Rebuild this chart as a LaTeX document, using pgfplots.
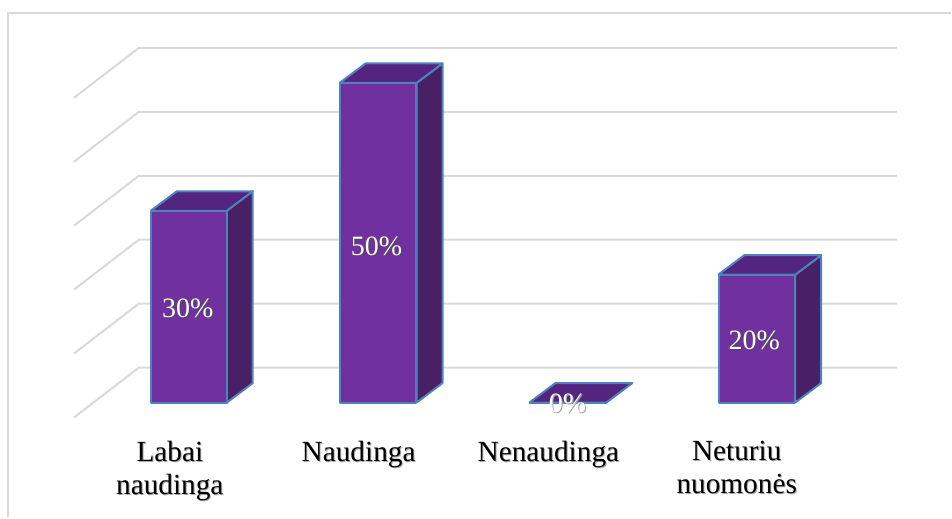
\documentclass[border=0pt]{standalone}
\usepackage{pgfplots}
\pgfplotsset{compat=1.18}
\usepackage{fontspec}
\setmainfont{Liberation Serif}

\definecolor{barfront}{HTML}{7030A0}
\definecolor{bartop}{HTML}{532480}
\definecolor{barside}{HTML}{472066}
\definecolor{baredge}{HTML}{4F81BD}
\definecolor{gridc}{HTML}{D9D9D9}

% text with the soft shadow of the original
\newcommand{\shc}[2]{\makebox[0pt][l]{\kern1pt\raisebox{-1pt}{\textcolor{#1}{#2}}}#2}
\newcommand{\sh}[1]{\shc{gray!70}{#1}}
\newcommand{\shd}[1]{\shc{black!70}{#1}}

\begin{document}
\begin{tikzpicture}[line join=round]
\begin{axis}[
  width=952pt, height=518pt, scale only axis,
  % x in picture pixels, y in percent with 6.4 px per percent
  xmin=0, xmax=952, ymin=-17.97, ymax=62.97,
  axis line style={draw=none},
  tick style={draw=none},
  clip=false,
  xtick pos=bottom,
  xtick={170,359,549,737.5},
  xticklabels={{\sh{Labai}\\\sh{naudinga}},{\sh{Naudinga}},{\sh{Nenaudinga}},{\sh{Neturiu}\\\sh{nuomonės}}},
  x tick label style={align=center, anchor=north, yshift=80pt, font=\fontsize{29.3}{33}\selectfont},
  ytick=\empty,
  major tick length=0pt,
]
% frame
\addplot[gridc, line width=2pt] coordinates {(8,-17.97) (8,60.9) (952,60.9)};
% back wall and side wall grid
\addplot[gridc, line width=2pt] coordinates {(74,-2.34) (139,5.47) (898,5.47)};
\addplot[gridc, line width=2pt] coordinates {(74,7.66) (139,15.47) (898,15.47)};
\addplot[gridc, line width=2pt] coordinates {(74,17.66) (139,25.47) (898,25.47)};
\addplot[gridc, line width=2pt] coordinates {(74,27.66) (139,35.47) (898,35.47)};
\addplot[gridc, line width=2pt] coordinates {(74,37.66) (139,45.47) (898,45.47)};
\addplot[gridc, line width=2pt] coordinates {(74,47.66) (139,55.47) (898,55.47)};
% side faces
\addplot[fill=barside, draw=baredge, line width=2pt, line join=round] coordinates {(227,0) (253,3.05) (253,33.05) (227,30) (227,0)};
\addplot[fill=barside, draw=baredge, line width=2pt, line join=round] coordinates {(417,0) (443,3.05) (443,53.05) (417,50) (417,0)};
\addplot[fill=barside, draw=baredge, line width=2pt, line join=round] coordinates {(796,0) (822,3.05) (822,23.05) (796,20) (796,0)};
% top faces
\addplot[fill=bartop, draw=baredge, line width=2pt, line join=round] coordinates {(151,30) (177,33.05) (253,33.05) (227,30) (151,30)};
\addplot[fill=bartop, draw=baredge, line width=2pt, line join=round] coordinates {(340,50) (366,53.05) (443,53.05) (417,50) (340,50)};
\addplot[fill=bartop, draw=baredge, line width=2pt, line join=round] coordinates {(530,0) (556,3.05) (633,3.05) (607,0) (530,0)};
\addplot[fill=bartop, draw=baredge, line width=2pt, line join=round] coordinates {(719,20) (745,23.05) (822,23.05) (796,20) (719,20)};
% front faces
\addplot[ybar, bar width=76.5, fill=barfront, draw=baredge, line width=2pt, line join=round]
  coordinates {(189,30) (378.5,50) (568.5,0) (757.5,20)};
% value labels
\addplot[draw=none, mark=none, point meta=explicit symbolic,
  nodes near coords, nodes near coords align={center},
  every node near coord/.append style={text=white, font=\fontsize{28}{30}\selectfont}]
  coordinates {(188,14.7) [\shd{30\%}] (377,24.4) [\shd{50\%}]
               (568,-0.2) [\sh{0\%}] (755,9.7) [\shd{20\%}]};
\end{axis}
\end{tikzpicture}
\end{document}
